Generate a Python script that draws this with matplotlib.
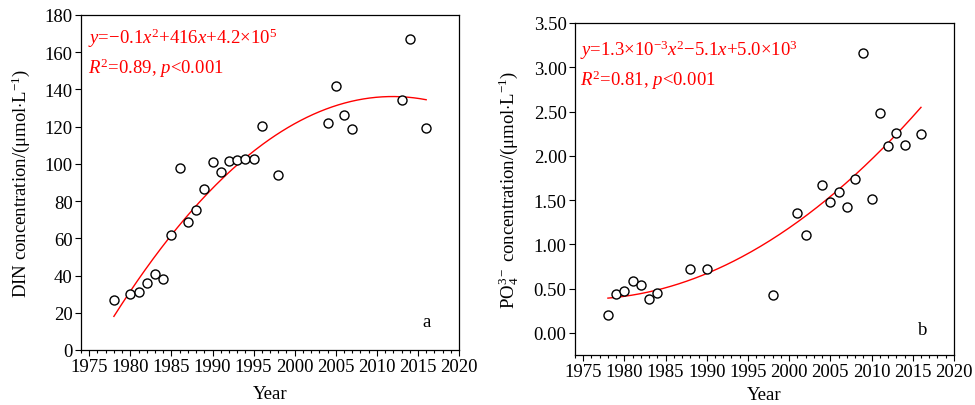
import numpy as np
import matplotlib
matplotlib.use("Agg")
import matplotlib.pyplot as plt
from matplotlib.ticker import MultipleLocator, FormatStrFormatter

plt.rcParams['font.family'] = ['Liberation Serif', 'DejaVu Serif']
plt.rcParams['mathtext.fontset'] = 'custom'
plt.rcParams['mathtext.rm'] = 'Liberation Serif'
plt.rcParams['mathtext.it'] = 'Liberation Serif:italic'
plt.rcParams['font.size'] = 13.5

# panel a: DIN
din_years = [1978, 1980, 1981, 1982, 1983, 1984, 1985, 1986, 1987, 1988, 1989,
             1990, 1991, 1992, 1993, 1994, 1995, 1996, 1998, 2004, 2005, 2006,
             2007, 2013, 2014, 2016]
din_values = [27, 30, 31, 36, 41, 38, 61.6, 97.6, 68.6, 75.2, 86.7,
              101.2, 95.5, 101.8, 102.3, 102.5, 102.8, 120.2, 94.2, 121.8, 141.9, 126.3,
              118.9, 134.2, 167.3, 119.1]

# panel b: PO4
po4_years = [1978, 1979, 1980, 1981, 1982, 1983, 1984, 1988, 1990, 1998, 2001,
             2002, 2004, 2005, 2006, 2007, 2008, 2009, 2010, 2011, 2012, 2013,
             2014, 2016]
po4_values = [0.20, 0.44, 0.47, 0.59, 0.545, 0.38, 0.455, 0.72, 0.72, 0.43, 1.35,
              1.10, 1.67, 1.48, 1.59, 1.42, 1.74, 3.165, 1.51, 2.48, 2.105, 2.256,
              2.124, 2.248]

fig = plt.figure(figsize=(9.75, 4.06), dpi=100)
ax1 = fig.add_axes([0.0831, 0.1355, 0.3877, 0.8251])
ax2 = fig.add_axes([0.5897, 0.1232, 0.3887, 0.8177])


def draw(ax, years, values, ylim, ystep, yfmt, ylabel, eq, r2, letter, eqpos, r2pos, letpos, xpad):
    x = np.array(years, dtype=float)
    y = np.array(values, dtype=float)
    c = np.polyfit(x - 2000, y, 2)
    xx = np.linspace(x.min(), x.max(), 200)
    ax.plot(xx, np.polyval(c, xx - 2000), color='red', lw=1.0, zorder=2)
    ax.plot(x, y, 'o', mfc='white', mec='black', mew=1.0, ms=6.5, zorder=3)
    ax.set_xlim(1974, 2020)
    ax.set_ylim(*ylim)
    ax.xaxis.set_major_locator(MultipleLocator(5))
    ax.xaxis.set_minor_locator(MultipleLocator(1))
    ax.yaxis.set_major_locator(MultipleLocator(ystep))
    ax.yaxis.set_major_formatter(FormatStrFormatter(yfmt))
    ax.tick_params(direction='out', length=4, width=0.8, labelsize=13.5, pad=2)
    ax.tick_params(which='minor', direction='out', length=2.5, width=0.8)
    for s in ax.spines.values():
        s.set_linewidth(0.9)
    ax.set_xlabel('Year', fontsize=13.5, labelpad=xpad)
    ax.set_ylabel(ylabel, fontsize=13.5, labelpad=9)
    ax.text(eqpos[0], eqpos[1], eq, transform=ax.transAxes, color='red', fontsize=13.5, va='center')
    ax.text(r2pos[0], r2pos[1], r2, transform=ax.transAxes, color='red', fontsize=13.5, va='center')
    ax.text(letpos[0], letpos[1], letter, transform=ax.transAxes, fontsize=13.5, ha='center', va='center')


draw(ax1, din_years, din_values, (0, 180), 20, '%d',
     r'DIN concentration/(μmol$\cdot$L$^{-1}$)',
     r'$y$=$-$0.1$x^2$+416$x$+4.2×10$^5$', r'$R^2$=0.89, $p$<0.001', 'a',
     (0.018, 0.934), (0.018, 0.845), (0.913, 0.084), 7)

draw(ax2, po4_years, po4_values, (-0.25, 3.5), 0.5, '%.2f',
     r'PO$_4^{3-}$ concentration/(μmol$\cdot$L$^{-1}$)',
     r'$y$=1.3×10$^{-3}$$x^2$$-$5.1$x$+5.0×10$^3$', r'$R^2$=0.81, $p$<0.001', 'b',
     (0.012, 0.92), (0.012, 0.83), (0.917, 0.078), 4)

fig.savefig('out.png', dpi=100)
